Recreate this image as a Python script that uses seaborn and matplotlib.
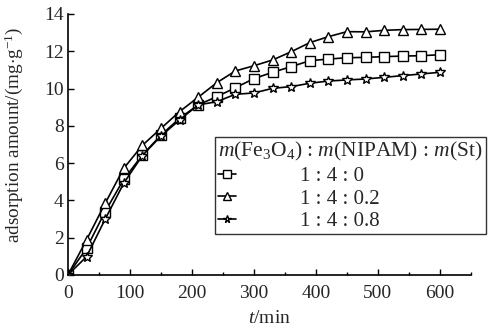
import pandas as pd
import matplotlib
matplotlib.use("Agg")
import matplotlib.pyplot as plt
import seaborn as sns
from matplotlib.ticker import MultipleLocator

t = list(range(0, 601, 30))
sq = [0, 1.43, 3.40, 5.13, 6.43, 7.50, 8.40, 9.12, 9.56, 10.04, 10.53,
      10.87, 11.17, 11.49, 11.58, 11.65, 11.67, 11.71, 11.74, 11.76, 11.81]
tri = [0, 1.88, 3.84, 5.72, 6.95, 7.86, 8.76, 9.53, 10.31, 10.94, 11.22,
       11.53, 11.97, 12.46, 12.78, 13.05, 13.04, 13.12, 13.16, 13.17, 13.18]
star = [0, 0.98, 2.99, 4.92, 6.40, 7.45, 8.31, 9.12, 9.29, 9.69, 9.76,
        10.01, 10.10, 10.28, 10.40, 10.46, 10.51, 10.60, 10.69, 10.78, 10.87]
labels = ["1 : 4 : 0", "1 : 4 : 0.2", "1 : 4 : 0.8"]

df = pd.concat([
    pd.DataFrame({"t": t, "q": sq, "ratio": labels[0]}),
    pd.DataFrame({"t": t, "q": tri, "ratio": labels[1]}),
    pd.DataFrame({"t": t, "q": star, "ratio": labels[2]}),
])

sns.set_style("ticks")
plt.rcParams["font.family"] = ["Liberation Serif", "DejaVu Serif"]
plt.rcParams["mathtext.fontset"] = "custom"
plt.rcParams["mathtext.rm"] = "Liberation Serif"
plt.rcParams["mathtext.it"] = "Liberation Serif:italic"

fig = plt.figure(figsize=(4.89, 3.32), dpi=100)
ax = fig.add_axes([0.139, 0.172, 0.824, 0.786])

sns.lineplot(data=df, x="t", y="q", hue="ratio", style="ratio",
             palette=["black"] * 3, markers=["s", "^", "*"], dashes=False,
             markersize=7, markerfacecolor="white", markeredgecolor="black",
             markeredgewidth=1.0, linewidth=1.2, ax=ax)

ax.set_xlim(0, 650)
ax.set_ylim(0, 14)
ax.xaxis.set_major_locator(MultipleLocator(100))
ax.xaxis.set_minor_locator(MultipleLocator(50))
ax.yaxis.set_major_locator(MultipleLocator(2))
ax.set_xticks(range(0, 601, 100))
ax.tick_params(which="both", direction="in", labelsize=14, width=1, color="black")
ax.tick_params(axis="x", pad=7)
ax.tick_params(axis="y", pad=3)
ax.tick_params(which="major", length=4)
ax.tick_params(which="minor", length=2)
for s in ["top", "right"]:
    ax.spines[s].set_visible(False)
for s in ["left", "bottom"]:
    ax.spines[s].set_linewidth(1.2)
    ax.spines[s].set_color("black")

ax.set_xlabel(r"$t$/min", fontsize=14, labelpad=6)
ax.set_ylabel(r"adsorption amount/(mg$\cdot$g$^{-1}$)", fontsize=13.8)
ax.yaxis.set_label_coords(-0.106, 0.535)

h, l = ax.get_legend_handles_labels()
for hh in h:
    hh.set_markersize(5.5)
leg = ax.legend(h, l, title=r"$m$(Fe$_3$O$_4$) : $m$(NIPAM) : $m$(St)",
                loc="upper left", bbox_to_anchor=(215 / 489, 1 - 137 / 332),
                bbox_transform=fig.transFigure, fontsize=15, title_fontsize=15.5,
                frameon=True, fancybox=False, edgecolor="black",
                handlelength=0.85, handletextpad=3.1, labelspacing=0.15,
                borderpad=0.15, borderaxespad=0)
leg.get_frame().set_linewidth(1.0)
leg._legend_box.align = "left"
leg.set_clip_on(False)

fig.savefig("out.png", dpi=100, facecolor="white")
